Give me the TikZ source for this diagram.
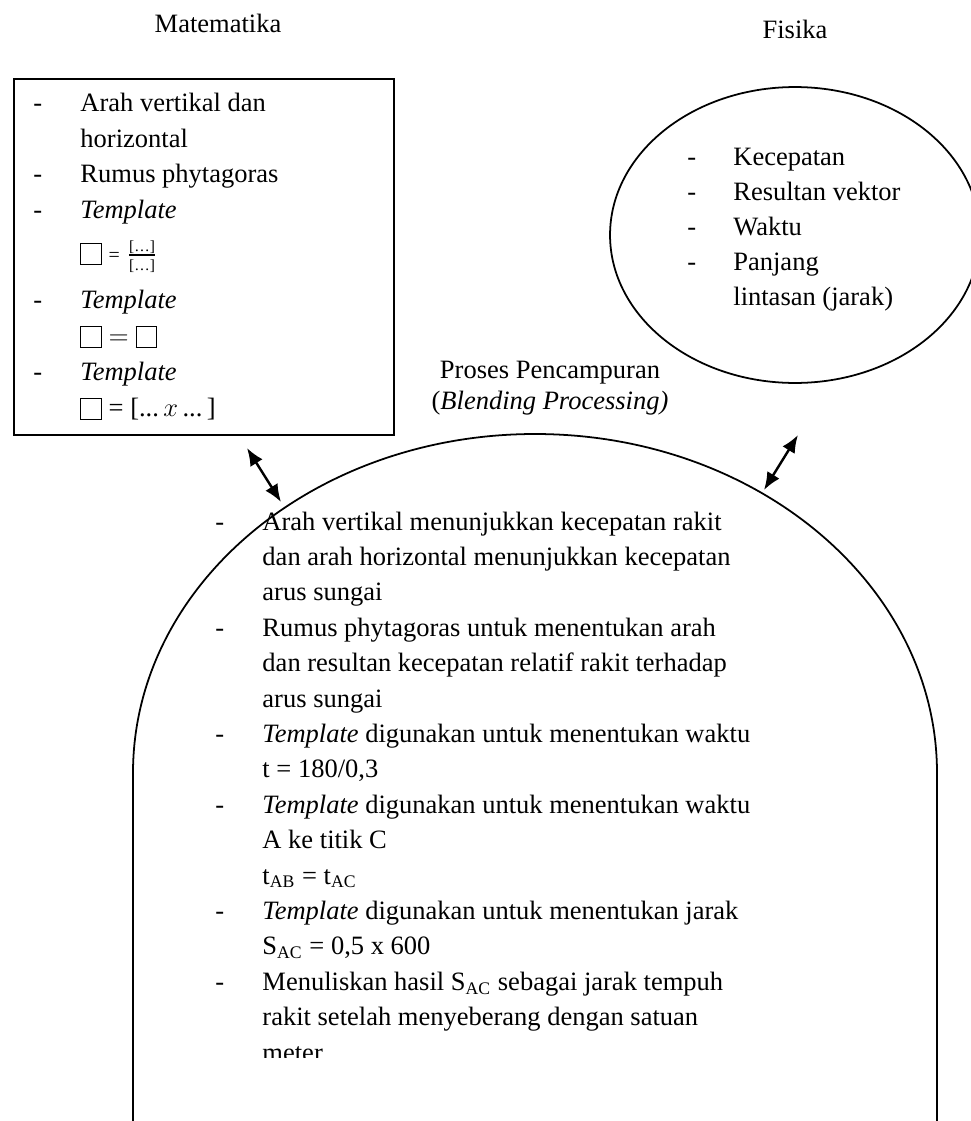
\documentclass[tikz,border=0pt]{standalone}
\usepackage{fontspec}
\setmainfont{Liberation Serif}
\usepackage{amssymb}
\usetikzlibrary{arrows.meta,positioning,shapes.geometric}

\newcommand{\kotak}{\raisebox{-0.1em}{\setlength{\fboxsep}{0pt}\setlength{\fboxrule}{0.45pt}\fbox{\rule{0pt}{0.76em}\hspace{0.74em}}}}

\begin{document}
\begin{tikzpicture}[x=0.4528pt, y=-0.4528pt,
  teks/.style={inner sep=0pt, font=\fontsize{12}{16.3}\selectfont},
  garis/.style={draw, line width=0.8pt},
  panah/.style={{Latex[length=8pt,width=6.5pt]}-{Latex[length=8pt,width=6.5pt]}, line width=1.1pt}]
\useasboundingbox (0,0) rectangle (971,1121);

% judul
\node[teks, anchor=base] (jmat) at (218,32) {Matematika};
\node[teks, anchor=base] (jfis) at (795,38) {Fisika};

% kotak matematika
\node[garis, anchor=north west, minimum width=172.1pt, minimum height=161.2pt] (mat) at (13,78) {};
\node[teks, anchor=base west] (matisi) at (33,111) {%
  \begin{tabular}[t]{@{}p{21.3pt}@{}l@{}}
  - & Arah vertikal dan\\
    & horizontal\\
  - & Rumus phytagoras\\
  - & \textit{Template}\\[3pt]
    & \kotak{} {\small =} $\frac{\mbox{\scriptsize[…]}}{\mbox{\scriptsize[…]}}$\\[5pt]
  - & \textit{Template}\\
    & \kotak{} $=$ \kotak\\
  - & \textit{Template}\\
    & \kotak{} = [...\,$x$\,...\,]
  \end{tabular}};

% elips fisika
\node[garis, ellipse, minimum width=167.5pt, minimum height=134pt] (fis) at (795,235) {};
\node[teks, anchor=base west, font=\fontsize{12}{15.85}\selectfont] (fisisi) at (687,165) {%
  \begin{tabular}[t]{@{}p{20.8pt}@{}l@{}}
  - & Kecepatan\\
  - & Resultan vektor\\
  - & Waktu\\
  - & Panjang\\
    & lintasan (jarak)
  \end{tabular}};

% proses pencampuran
\node[teks, align=center, font=\fontsize{12}{14}\selectfont] (jblend) at (550,388)
  {Proses Pencampuran\\(\textit{Blending Processing)}};
\draw[garis] (133,1121) -- (133,773)
  arc[start angle=180, end angle=360, x radius=402, y radius=339] -- (937,1121);
\begin{scope}
  \clip (0,0) rectangle (971,1057);
  \node[teks, anchor=base west, font=\fontsize{12}{16.03}\selectfont] (blendisi) at (215,530) {%
    \begin{tabular}[t]{@{}p{21.3pt}@{}l@{}}
    - & Arah vertikal menunjukkan kecepatan rakit\\
      & dan arah horizontal menunjukkan kecepatan\\
      & arus sungai\\
    - & Rumus phytagoras untuk menentukan arah\\
      & dan resultan kecepatan relatif rakit terhadap\\
      & arus sungai\\
    - & \textit{Template} digunakan untuk menentukan waktu\\
      & t = 180/0,3\\
    - & \textit{Template} digunakan untuk menentukan waktu\\
      & A ke titik C\\
      & t\textsubscript{AB} = t\textsubscript{AC}\\
    - & \textit{Template} digunakan untuk menentukan jarak\\
      & S\textsubscript{AC} = 0,5 x 600\\
    - & Menuliskan hasil S\textsubscript{AC} sebagai jarak tempuh\\
      & rakit setelah menyeberang dengan satuan\\
      & meter
    \end{tabular}};
\end{scope}

% panah dua arah
\coordinate (ka) at (247,448);
\coordinate (kb) at (281,502);
\coordinate (fa) at (764,490);
\coordinate (fb) at (798,435);
\draw[panah] (ka) -- (kb);
\draw[panah] (fa) -- (fb);
\end{tikzpicture}
\end{document}
